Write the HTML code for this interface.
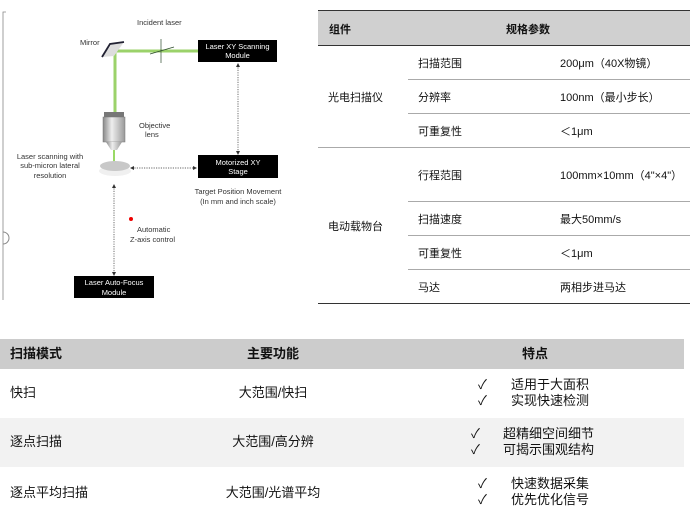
<!DOCTYPE html>
<html><head><meta charset="utf-8"><style>
body{margin:0;width:696px;height:522px;background:#fff;position:relative;font-family:"Liberation Sans","Noto Sans CJK SC",sans-serif;color:#111;overflow:hidden}
.a{position:absolute;white-space:nowrap}
.t{font-size:11px}
.b{font-size:13px;line-height:16px}
.c{transform:translateX(-50%)}
</style></head><body>
<svg class="a" style="left:0;top:0" width="310" height="310" font-family="Liberation Sans, sans-serif" font-size="7.5" fill="#333">
<path d="M6 12 H3 V300" stroke="#888" fill="none" stroke-width="0.8"/>
<path d="M3 232 a4 4 0 0 1 0 12" stroke="#888" fill="none"/>
<line x1="115" y1="51" x2="199" y2="51" stroke="#9bd26a" stroke-width="3"/>
<line x1="115" y1="50" x2="115" y2="113" stroke="#9bd26a" stroke-width="3"/>
<polygon points="102,57 112,44 124,42 114,56" fill="#ddd"/>
<path d="M102 57 L110 44 L124 42" stroke="#223" stroke-width="1.8" fill="none"/>
<g stroke="#2d4a2d" stroke-width="0.7"><line x1="161" y1="39" x2="161" y2="63"/><line x1="150" y1="54" x2="174" y2="47"/></g>
<text x="137" y="25">Incident laser</text>
<text x="80" y="45">Mirror</text>
<rect x="198" y="40" width="79" height="22" fill="#000"/>
<text x="237.5" y="49" fill="#fff" text-anchor="middle">Laser XY Scanning</text>
<text x="237.5" y="58" fill="#fff" text-anchor="middle">Module</text>
<rect x="198" y="155" width="80" height="23" fill="#000"/>
<text x="238" y="165" fill="#fff" text-anchor="middle">Motorized XY</text>
<text x="238" y="174" fill="#fff" text-anchor="middle">Stage</text>
<rect x="74" y="276" width="80" height="22" fill="#000"/>
<text x="114" y="285" fill="#fff" text-anchor="middle">Laser Auto-Focus</text>
<text x="114" y="295" fill="#fff" text-anchor="middle">Module</text>
<defs><linearGradient id="g" x1="0" x2="1"><stop offset="0" stop-color="#888"/><stop offset=".4" stop-color="#eee"/><stop offset="1" stop-color="#999"/></linearGradient></defs>
<rect x="104" y="112" width="20" height="6" fill="#777"/>
<rect x="103" y="117" width="22" height="25" fill="url(#g)" stroke="#777" stroke-width=".5"/>
<path d="M106 142 H122 L117 150 H111 Z" fill="url(#g)"/>
<line x1="114" y1="150" x2="114" y2="163" stroke="#7c3" stroke-width="1.5"/>
<ellipse cx="115" cy="171" rx="16" ry="5" fill="#f0f0f0"/>
<ellipse cx="115" cy="166" rx="15" ry="5" fill="#c8c8c8"/>
<text x="139" y="128">Objective</text><text x="145" y="137">lens</text>
<text x="50" y="159" text-anchor="middle">Laser scanning with</text>
<text x="50" y="168" text-anchor="middle">sub-micron lateral</text>
<text x="50" y="178" text-anchor="middle">resolution</text>
<text x="238" y="194" text-anchor="middle">Target Position Movement</text>
<text x="238" y="204" text-anchor="middle">(In mm and inch scale)</text>
<circle cx="131" cy="219" r="2" fill="#e00"/>
<text x="137" y="232">Automatic</text><text x="130" y="242">Z-axis control</text>
<g stroke="#333" stroke-width=".7" stroke-dasharray="1.2 1.2"><line x1="238" y1="65" x2="238" y2="153"/><line x1="132" y1="168" x2="195" y2="168"/><line x1="114" y1="186" x2="114" y2="274"/></g>
<g fill="#333"><path d="M238 63 l-2 4 h4z M238 155 l-2 -4 h4z M130 168 l4 -2 v4z M197 168 l-4 -2 v4z M114 184 l-2 4 h4z M114 276 l-2 -4 h4z"/></g>
</svg>

<div class="a" style="left:318px;top:10px;width:372px;height:34px;background:#d0d0d0;border-top:1px solid #333;border-bottom:1px solid #333"></div>
<div class="a t" style="left:329px;top:21px;font-weight:bold">组件</div>
<div class="a t" style="left:528px;top:21px;font-weight:bold;transform:translateX(-50%)">规格参数</div>
<div class="a" style="left:408px;top:79px;width:282px;border-top:1px solid #aaa"></div>
<div class="a" style="left:408px;top:113px;width:282px;border-top:1px solid #aaa"></div>
<div class="a" style="left:318px;top:147px;width:372px;border-top:1px solid #aaa"></div>
<div class="a" style="left:408px;top:201px;width:282px;border-top:1px solid #aaa"></div>
<div class="a" style="left:408px;top:235px;width:282px;border-top:1px solid #aaa"></div>
<div class="a" style="left:408px;top:269px;width:282px;border-top:1px solid #aaa"></div>
<div class="a" style="left:318px;top:303px;width:372px;border-top:1px solid #333"></div>
<div class="a t" style="left:328px;top:89px">光电扫描仪</div>
<div class="a t" style="left:328px;top:218px">电动载物台</div>
<div class="a t" style="left:418px;top:55px">扫描范围</div><div class="a t" style="left:560px;top:55px">200μm（40X物镜）</div>
<div class="a t" style="left:418px;top:89px">分辨率</div><div class="a t" style="left:560px;top:89px">100nm（最小步长）</div>
<div class="a t" style="left:418px;top:123px">可重复性</div><div class="a t" style="left:560px;top:123px">＜1μm</div>
<div class="a t" style="left:418px;top:167px">行程范围</div><div class="a t" style="left:560px;top:167px">100mm×10mm（4"×4"）</div>
<div class="a t" style="left:418px;top:211px">扫描速度</div><div class="a t" style="left:560px;top:211px">最大50mm/s</div>
<div class="a t" style="left:418px;top:245px">可重复性</div><div class="a t" style="left:560px;top:245px">＜1μm</div>
<div class="a t" style="left:418px;top:279px">马达</div><div class="a t" style="left:560px;top:279px">两相步进马达</div>

<div class="a" style="left:0;top:339px;width:684px;height:30px;background:#cccccc"></div>
<div class="a" style="left:0;top:418px;width:684px;height:49px;background:#f2f2f2"></div>
<div class="a b" style="left:10px;top:346px;font-weight:bold">扫描模式</div>
<div class="a b c" style="left:273px;top:346px;font-weight:bold">主要功能</div>
<div class="a b c" style="left:535px;top:346px;font-weight:bold">特点</div>
<div class="a b" style="left:10px;top:385px">快扫</div>
<div class="a b c" style="left:273px;top:385px">大范围/快扫</div>
<div class="a b" style="left:478px;top:377px">✓</div><div class="a b" style="left:478px;top:393px">✓</div>
<div class="a b" style="left:511px;top:377px">适用于大面积</div><div class="a b" style="left:511px;top:393px">实现快速检测</div>
<div class="a b" style="left:10px;top:434px">逐点扫描</div>
<div class="a b c" style="left:273px;top:434px">大范围/高分辨</div>
<div class="a b" style="left:471px;top:426px">✓</div><div class="a b" style="left:471px;top:442px">✓</div>
<div class="a b" style="left:503px;top:426px">超精细空间细节</div><div class="a b" style="left:503px;top:442px">可揭示围观结构</div>
<div class="a b" style="left:10px;top:485px">逐点平均扫描</div>
<div class="a b c" style="left:273px;top:485px">大范围/光谱平均</div>
<div class="a b" style="left:478px;top:476px">✓</div><div class="a b" style="left:478px;top:492px">✓</div>
<div class="a b" style="left:511px;top:476px">快速数据采集</div><div class="a b" style="left:511px;top:492px">优先优化信号</div>
</body></html>
